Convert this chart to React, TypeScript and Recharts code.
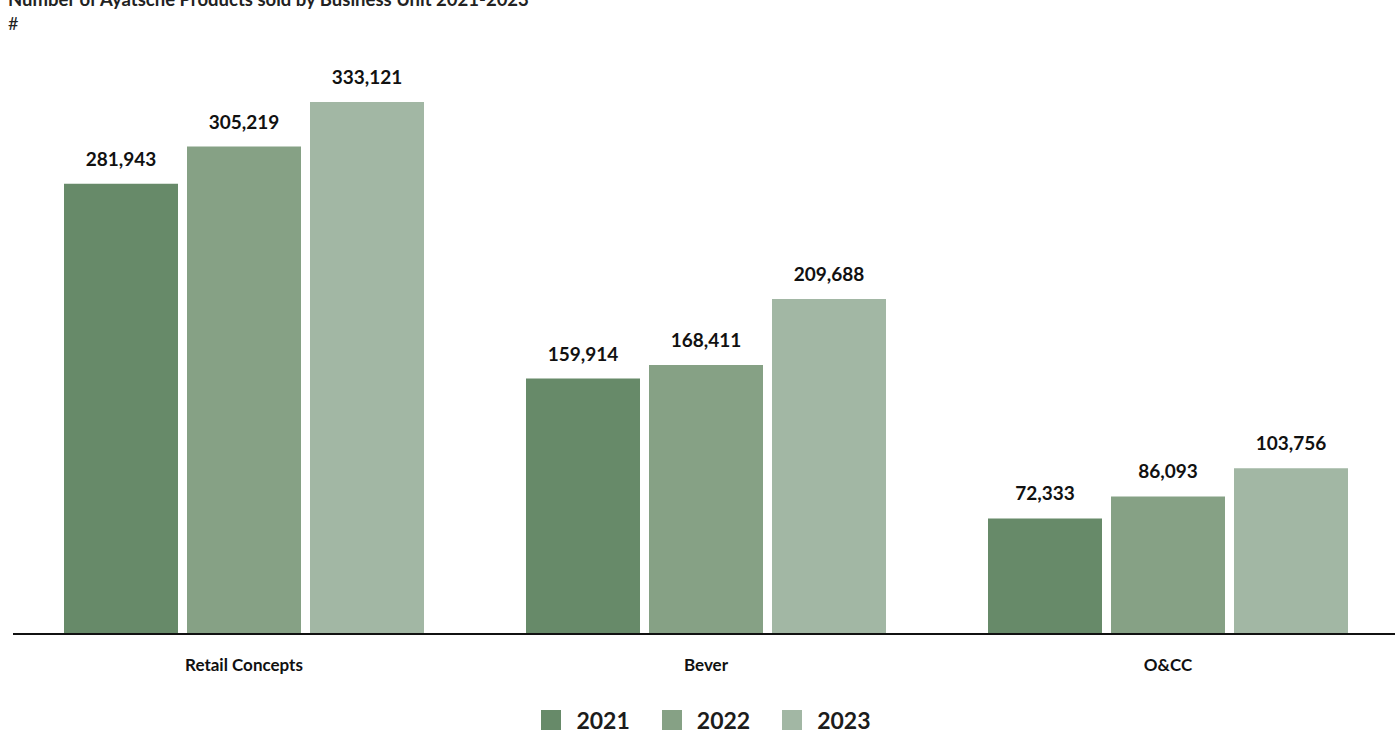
import { BarChart, Bar, XAxis, YAxis, Legend, LabelList } from 'recharts';

const units = ['Retail Concepts', 'Bever', 'O&CC'];
const years = ['2021', '2022', '2023'];
const sold2021 = [281943, 159914, 72333];
const sold2022 = [305219, 168411, 86093];
const sold2023 = [333121, 209688, 103756];
const colors = ['#678a69', '#86a185', '#a2b7a4'];

const data = units.map((unit, i) => ({
    unit,
    '2021': sold2021[i],
    '2022': sold2022[i],
    '2023': sold2023[i],
}));

const font = 'Lato, "Open Sans", sans-serif';

const renderLegend = () => (
    <div style={{ display: 'flex', justifyContent: 'center', paddingTop: 16, fontFamily: font }}>
        {years.map((y, i) => (
            <div key={y} style={{ display: 'flex', alignItems: 'center', marginRight: i < years.length - 1 ? 32 : 0 }}>
                <span style={{ width: 20, height: 20, background: colors[i], display: 'inline-block' }} />
                <span style={{ marginLeft: 15, fontSize: 23, fontWeight: 700, color: '#1c1c1c', lineHeight: '20px' }}>{y}</span>
            </div>
        ))}
    </div>
);

export default function App() {
    return (
        <div style={{ position: 'absolute', left: 0, top: 0, width: 1395, height: 733, overflow: 'hidden', background: '#fff', fontFamily: font }}>
            <div style={{ position: 'absolute', left: 8, top: -12, fontSize: 18.5, fontWeight: 700, color: '#222', whiteSpace: 'nowrap', lineHeight: '22px' }}>
                Number of Ayatsche Products sold by Business Unit 2021-2023
            </div>
            <div style={{ position: 'absolute', left: 8, top: 12, fontSize: 18, color: '#222', lineHeight: '22px' }}>#</div>
            <BarChart
                width={1400}
                height={733}
                data={data}
                margin={{ top: 75, right: 1, left: 13, bottom: 0 }}
                barSize={114}
                barGap={9}
            >
                <XAxis
                    dataKey="unit"
                    height={60}
                    tickLine={false}
                    tickSize={0}
                    tickMargin={25}
                    axisLine={{ stroke: '#111', strokeWidth: 2 }}
                    tick={{ fill: '#111', fontSize: 17, fontWeight: 700, fontFamily: font }}
                />
                <YAxis hide domain={[0, 350000]} />
                <Legend verticalAlign="bottom" height={39} content={renderLegend} />
                {years.map((y, i) => (
                    <Bar key={y} dataKey={y} fill={colors[i]} isAnimationActive={false}>
                        <LabelList
                            dataKey={y}
                            position="top"
                            offset={18}
                            formatter={(v: number) => v.toLocaleString('en-US')}
                            style={{ fill: '#111', fontSize: 19, fontWeight: 700, fontFamily: font }}
                        />
                    </Bar>
                ))}
            </BarChart>
        </div>
    );
}
